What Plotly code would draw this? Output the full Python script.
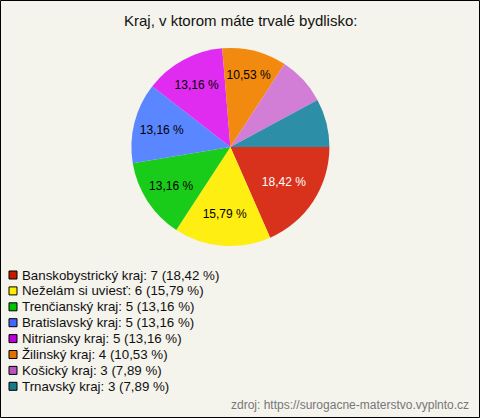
import plotly.graph_objects as go

names = ["Banskobystrický kraj", "Neželám si uviesť", "Trenčianský kraj", "Bratislavský kraj",
         "Nitriansky kraj", "Žilinský kraj", "Košický kraj", "Trnavský kraj"]
counts = [7, 6, 5, 5, 5, 4, 3, 3]
percents = ["18,42", "15,79", "13,16", "13,16", "13,16", "10,53", "7,89", "7,89"]
slice_labels = ["18,42 %", "15,79 %", "13,16 %", "13,16 %", "13,16 %", "10,53 %", "", ""]
colors = ["#d8321c", "#ffee11", "#19cc19", "#5a86ff", "#e02bf0", "#f28a10", "#d27ed6", "#2d8ea8"]
swatch_colors = ["#c41a00", "#ffee00", "#00c000", "#4466ff", "#bb00dd", "#e07000", "#bb55bb", "#1a7a8a"]
text_colors = ["white", "black", "black", "black", "black", "black", "black", "black"]

legend_labels = [f"{n}: {c} ({p} %)" for n, c, p in zip(names, counts, percents)]

W, H = 480, 418

fig = go.Figure(go.Pie(
    labels=legend_labels,
    values=counts,
    text=slice_labels,
    textinfo="text",
    textposition="inside",
    insidetextorientation="horizontal",
    textfont=dict(color=text_colors, size=12, family="Liberation Sans, Arial"),
    marker=dict(colors=colors, line=dict(width=0)),
    sort=False,
    direction="clockwise",
    rotation=90,
    hoverinfo="label",
    showlegend=False,
    domain=dict(x=[0.2, 0.76], y=[1 - 246 / H, 1 - 48 / H]),
))

annotations = [
    dict(text="Kraj, v ktorom máte trvalé bydlisko:", x=0.5, y=1 - 20 / H,
         xref="paper", yref="paper", yanchor="middle", showarrow=False,
         font=dict(size=15, color="#111111")),
    dict(text="zdroj: https://surogacne-materstvo.vyplnto.cz", x=1 - 9 / W, y=1 - 405 / H,
         xref="paper", yref="paper", xanchor="right", yanchor="middle", showarrow=False,
         font=dict(size=12, color="#777777")),
]
shapes = [dict(type="rect", xref="paper", yref="paper", x0=0.5 / W, y0=0.5 / H,
               x1=1 - 0.5 / W, y1=1 - 0.5 / H, line=dict(color="black", width=1))]

for i, (lab, col) in enumerate(zip(legend_labels, swatch_colors)):
    yc = 275 + 15.9 * i
    annotations.append(dict(text=lab, x=20 / W, y=1 - yc / H, xref="paper", yref="paper",
                            xanchor="left", yanchor="middle", showarrow=False,
                            font=dict(size=13.3, color="#111111")))
    shapes.append(dict(type="rect", xref="paper", yref="paper",
                       x0=9 / W, x1=17 / W, y0=1 - (yc + 4) / H, y1=1 - (yc - 4) / H,
                       fillcolor=col, line=dict(color="black", width=1)))

fig.update_layout(
    width=W, height=H,
    margin=dict(l=0, r=0, t=0, b=0),
    paper_bgcolor="#f4f3ec",
    plot_bgcolor="#f4f3ec",
    font=dict(family="Liberation Sans, Arial", color="#111111"),
    showlegend=False,
    annotations=annotations,
    shapes=shapes,
)

fig.write_html("out.html", config={"displayModeBar": False},
               post_script="document.body.style.margin='0';")
